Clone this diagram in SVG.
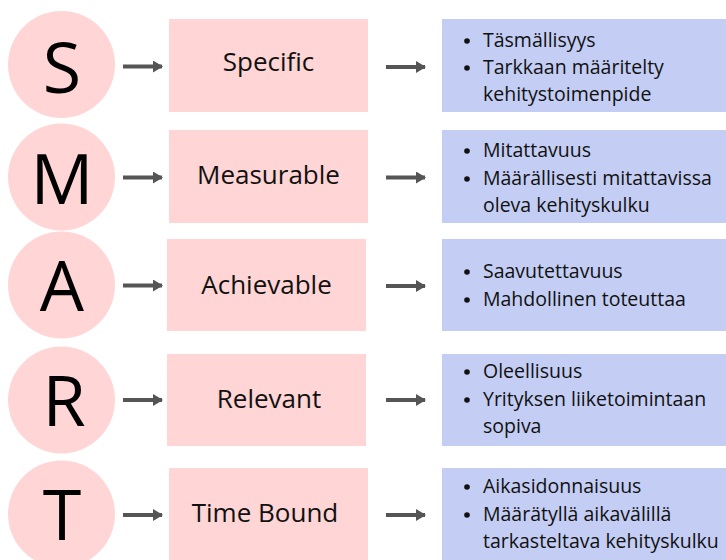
<svg xmlns="http://www.w3.org/2000/svg" width="726" height="560" viewBox="0 0 726 560">
<style>
.c{fill:#FFD5D5}
.p{fill:#FFD5D5}
.b{fill:#C4CDF3}
.L{font-family:"Open Sans","Liberation Sans",sans-serif;font-size:70px;fill:#000;text-anchor:middle}
.t{font-family:"Open Sans","Liberation Sans",sans-serif;font-size:26px;fill:#111;text-anchor:middle}
.u{font-family:"Open Sans","Liberation Sans",sans-serif;font-size:19.5px;fill:#111}
.d{fill:#111}
.a{stroke:#555;stroke-width:4;fill:none}
</style>
<defs>
<marker id="ah" markerWidth="10" markerHeight="12" refX="9" refY="6" orient="auto" markerUnits="userSpaceOnUse">
<path d="M0,0 L10,6 L0,12 Z" fill="#555"/>
</marker>
</defs>
<g id="row-S">
<circle class="c" cx="61.5" cy="64.5" r="53.5"/>
<text class="L" x="62" y="93">S</text>
</g>
<g id="row-M">
<circle class="c" cx="61.5" cy="177" r="53.5"/>
<text class="L" x="62" y="204">M</text>
</g>
<g id="row-A">
<circle class="c" cx="61.5" cy="285" r="53.5"/>
<text class="L" x="62" y="311">A</text>
</g>
<g id="row-R">
<circle class="c" cx="61.5" cy="400" r="53.5"/>
<text class="L" x="64" y="426">R</text>
</g>
<g id="row-T">
<circle class="c" cx="61.5" cy="514" r="53.5"/>
<text class="L" x="62" y="540">T</text>
</g>
<g id="box-specific">
<rect class="p" x="169" y="19" width="199" height="93"/>
<text class="t" x="268.5" y="71">Specific</text>
</g>
<g id="box-measurable">
<rect class="p" x="169" y="130" width="199" height="93"/>
<text class="t" x="268.5" y="184">Measurable</text>
</g>
<g id="box-achievable">
<rect class="p" x="167" y="239" width="199" height="92"/>
<text class="t" x="266.5" y="294">Achievable</text>
</g>
<g id="box-relevant">
<rect class="p" x="167" y="354" width="199" height="92"/>
<text class="t" x="269" y="408">Relevant</text>
</g>
<g id="box-timebound">
<rect class="p" x="169" y="468" width="199" height="92"/>
<text class="t" x="265" y="522">Time Bound</text>
</g>
<g id="desc-specific">
<rect class="b" x="442" y="19" width="284" height="93"/>
<circle class="d" cx="467" cy="41" r="2.8"/>
<circle class="d" cx="467" cy="68" r="2.8"/>
<text class="u" x="483" y="47">Täsmällisyys</text>
<text class="u" x="483" y="74">Tarkkaan määritelty</text>
<text class="u" x="483" y="101">kehitystoimenpide</text>
</g>
<g id="desc-measurable">
<rect class="b" x="442" y="130" width="284" height="93"/>
<circle class="d" cx="467" cy="151" r="2.8"/>
<circle class="d" cx="467" cy="179" r="2.8"/>
<text class="u" x="483" y="157">Mitattavuus</text>
<text class="u" x="483" y="185">Määrällisesti mitattavissa</text>
<text class="u" x="483" y="212">oleva kehityskulku</text>
</g>
<g id="desc-achievable">
<rect class="b" x="442" y="239" width="284" height="92"/>
<circle class="d" cx="467" cy="272" r="2.8"/>
<circle class="d" cx="467" cy="300" r="2.8"/>
<text class="u" x="483" y="278">Saavutettavuus</text>
<text class="u" x="483" y="306">Mahdollinen toteuttaa</text>
</g>
<g id="desc-relevant">
<rect class="b" x="442" y="354" width="284" height="92"/>
<circle class="d" cx="467" cy="372" r="2.8"/>
<circle class="d" cx="467" cy="400" r="2.8"/>
<text class="u" x="483" y="378">Oleellisuus</text>
<text class="u" x="483" y="406">Yrityksen liiketoimintaan</text>
<text class="u" x="483" y="433">sopiva</text>
</g>
<g id="desc-timebound">
<rect class="b" x="442" y="468" width="284" height="92"/>
<circle class="d" cx="467" cy="487" r="2.8"/>
<circle class="d" cx="467" cy="515" r="2.8"/>
<text class="u" x="483" y="493">Aikasidonnaisuus</text>
<text class="u" x="483" y="521">Määrätyllä aikavälillä</text>
<text class="u" x="483" y="548">tarkasteltava kehityskulku</text>
</g>
<g id="connectors">
<line class="a" x1="123" y1="66.5" x2="162" y2="66.5" marker-end="url(#ah)"/>
<line class="a" x1="123" y1="177.5" x2="162" y2="177.5" marker-end="url(#ah)"/>
<line class="a" x1="123" y1="285.5" x2="162" y2="285.5" marker-end="url(#ah)"/>
<line class="a" x1="123" y1="400" x2="162" y2="400" marker-end="url(#ah)"/>
<line class="a" x1="123" y1="515" x2="162" y2="515" marker-end="url(#ah)"/>
<line class="a" x1="386" y1="67" x2="425" y2="67" marker-end="url(#ah)"/>
<line class="a" x1="386" y1="177.5" x2="425" y2="177.5" marker-end="url(#ah)"/>
<line class="a" x1="386" y1="286" x2="425" y2="286" marker-end="url(#ah)"/>
<line class="a" x1="386" y1="400" x2="425" y2="400" marker-end="url(#ah)"/>
<line class="a" x1="386" y1="515" x2="425" y2="515" marker-end="url(#ah)"/>
</g>
</svg>
